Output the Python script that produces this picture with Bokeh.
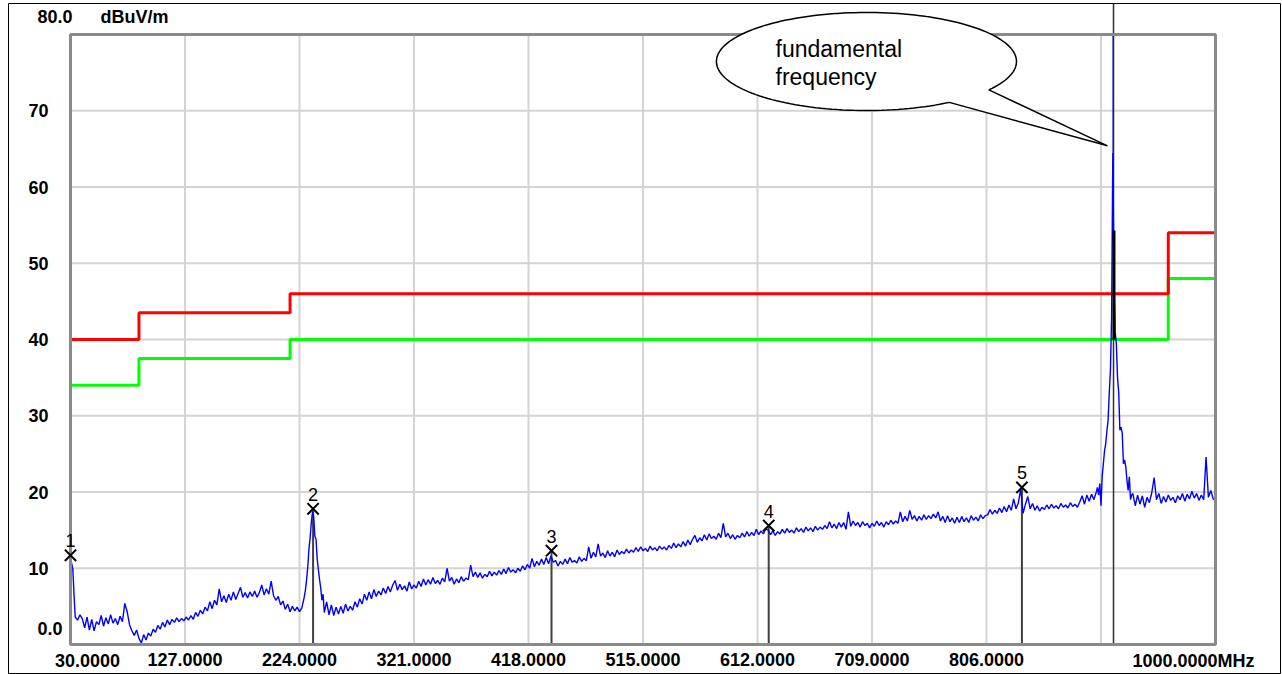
import numpy as np
from bokeh.plotting import figure
from bokeh.models import Label, PolyAnnotation, FixedTicker, Range1d
from bokeh.core.properties import value
from bokeh.embed import file_html
from bokeh.resources import INLINE

# ---------------- data ----------------
X_TICKS = [30, 127, 224, 321, 418, 515, 612, 709, 806, 903, 1000]
X_AXIS_LABELED = [127, 224, 321, 418, 515, 612, 709, 806]
Y_TICKS = [0, 10, 20, 30, 40, 50, 60, 70, 80]
Y_AXIS_LABELED = [10, 20, 30, 40, 50, 60, 70]
X_MIN, X_MAX = 30, 1000
Y_MIN, Y_MAX = 0, 80
UNIT_Y = "dBuV/m"
UNIT_X = "MHz"

# limit lines (step edges in MHz and levels in dBuV/m)
LIMIT_EDGES = [30, 88, 216, 960, 1000]
RED_LIMIT = [40.0, 43.5, 46.0, 54.0]
GREEN_MARGIN = [34.0, 37.5, 40.0, 48.0]

# spectrum trace, by segment
SEG0_FREQ = [30, 31, 32, 33, 34]
SEG0_LEVEL = [11.5, 10.6, 9.8, 6.5, 3.6]

SEG1_FREQ = list(range(36, 228, 2))
SEG1_LEVEL = [
    3.2, 3.9, 3.4, 2.2, 3.6, 1.9, 3.3, 1.8, 3.0, 2.6,
    3.8, 2.4, 3.5, 2.7, 3.9, 2.8, 3.4, 2.6, 3.7, 3.0,
    5.4, 4.3, 2.6, 1.8, 1.2, 1.9, 0.8, 0.2, 1.3, 0.6,
    1.5, 1.1, 2.0, 1.6, 2.5, 2.0, 2.9, 2.3, 3.2, 2.6,
    3.3, 2.9, 3.5, 3.0, 3.4, 3.1, 3.6, 3.2, 3.8, 3.3,
    4.2, 3.7, 4.5, 4.0, 4.9, 4.4, 5.6, 4.7, 5.8, 5.2,
    7.3, 5.6, 6.4, 5.5, 6.6, 5.8, 6.9, 5.9, 6.7, 7.5,
    6.2, 6.8, 6.1, 6.9, 6.3, 7.0, 6.2, 6.8, 7.8, 6.5,
    7.3, 6.6, 8.3, 6.4, 5.8, 6.3, 5.2, 5.7, 4.6, 5.3,
    4.3, 5.0, 4.4, 4.9, 4.3, 4.8,
]

SEG2_FREQ = list(range(227, 246))
SEG2_LEVEL = [5.5, 6.2, 7.1, 8.5, 10.2, 12.5, 14.0, 16.0, 17.4, 16.8,
              14.2, 13.8, 11.2, 9.8, 8.5, 7.4, 5.8, 6.6, 4.2]

SEG3_FREQ = list(range(247, 900, 2))
SEG3_LEVEL = [
    5.6, 3.9, 5.2, 3.8, 4.9, 4.0, 5.0, 4.1, 5.3, 4.4,
    5.0, 4.5, 5.6, 4.9, 6.0, 5.3, 6.6, 5.8, 6.9, 6.0,
    7.2, 6.3, 7.0, 6.5, 7.4, 6.7, 7.6, 6.9, 7.8, 8.4,
    7.1, 7.9, 7.2, 7.7, 7.0, 8.2, 7.3, 7.8, 7.4, 8.3,
    7.6, 8.6, 7.8, 8.5, 7.9, 8.8, 8.0, 8.4, 7.9, 8.7,
    8.2, 10.0, 8.3, 8.8, 7.9, 8.6, 8.1, 8.9, 8.3, 8.7,
    8.5, 10.4, 8.9, 9.5, 8.8, 9.4, 8.7, 9.2, 8.9, 9.6,
    9.0, 9.5, 9.1, 9.7, 9.2, 9.9, 9.3, 10.1, 9.5, 9.8,
    9.4, 10.0, 9.6, 10.3, 9.8, 10.5, 10.0, 11.3, 10.2, 10.9,
    10.4, 11.2, 10.5, 11.4, 10.6, 11.6, 10.8, 11.0, 10.3, 10.9,
    10.5, 11.2, 10.6, 11.4, 10.8, 11.0, 10.7, 11.5, 10.9, 11.3,
    11.0, 12.8, 11.3, 12.1, 11.5, 13.2, 11.6, 12.0, 11.4, 12.3,
    11.6, 12.1, 11.5, 12.4, 11.8, 12.2, 11.9, 12.5, 12.0, 12.4,
    12.1, 12.7, 12.2, 12.8, 12.3, 12.6, 12.2, 12.9, 12.4, 12.7,
    12.3, 12.9, 12.5, 12.8, 12.4, 13.0, 12.6, 13.3, 12.7, 13.2,
    12.8, 13.5, 12.9, 13.7, 13.1, 13.8, 14.3, 13.4, 14.0, 13.6,
    14.4, 13.7, 14.5, 13.9, 14.2, 13.8, 14.6, 14.0, 15.9, 14.1,
    14.6, 13.9, 14.4, 13.8, 14.3, 14.0, 14.6, 14.1, 14.8, 14.2,
    14.7, 14.3, 15.1, 14.4, 14.9, 14.5, 15.2, 15.0, 14.4, 14.9,
    14.3, 14.8, 14.5, 15.1, 14.6, 15.2, 14.7, 15.0, 14.6, 15.3,
    14.8, 15.2, 14.7, 15.4, 14.9, 15.3, 14.8, 15.5, 15.0, 15.4,
    15.1, 15.6, 15.2, 16.1, 15.3, 15.8, 15.2, 16.0, 15.4, 16.0,
    15.1, 17.4, 15.5, 16.2, 15.6, 16.0, 15.4, 16.1, 15.6, 15.9,
    15.3, 15.9, 15.5, 16.2, 15.6, 16.0, 15.4, 16.1, 15.7, 16.3,
    15.8, 16.2, 15.9, 17.4, 16.1, 16.8, 16.2, 17.6, 16.4, 16.9,
    16.2, 16.8, 16.3, 17.0, 16.4, 16.9, 16.5, 17.1, 16.6, 17.4,
    16.2, 16.8, 16.0, 16.9, 16.1, 16.6, 15.9, 16.7, 16.0, 16.8,
    16.1, 16.6, 16.0, 16.9, 16.3, 16.7, 16.2, 17.0, 16.5, 16.9,
    17.0, 17.7, 17.1, 17.6, 17.2, 17.9, 17.3, 18.1, 17.4, 18.3,
    17.6, 19.1, 17.8, 18.6, 20.4, 17.2, 18.4, 19.4, 17.8, 18.5,
    17.6, 18.2, 17.5, 18.0, 17.7, 18.3, 17.8, 18.4, 17.9, 18.2,
    17.8, 18.5, 18.0, 18.3, 17.9, 18.6, 18.1, 18.4, 18.0, 18.7,
    19.5, 18.4, 19.6, 18.8, 19.7, 19.0, 20.0,
]

SEG4_FREQ = list(range(900, 930))
SEG4_LEVEL = [20.6, 19.6, 21.1, 18.2, 22.0, 23.7, 25.4, 26.3, 28.0, 29.4,
              33.0, 36.0, 43.1, 64.5, 48.0, 41.0, 39.5, 35.0, 33.1, 28.1,
              28.5, 27.7, 23.7, 24.2, 23.3, 21.5, 20.2, 22.0, 19.0, 19.6]

SEG5_FREQ = list(range(930, 1001, 2))
SEG5_LEVEL = [
    19.8, 18.2, 19.6, 18.4, 19.5, 18.0, 19.3, 18.6, 19.9, 21.9,
    19.0, 19.8, 18.5, 19.4, 18.7, 19.6, 18.9, 19.3, 18.6, 19.5,
    19.0, 19.8, 18.8, 19.7, 19.1, 20.1, 19.2, 19.8, 18.9, 19.6,
    19.0, 24.6, 19.3, 20.2, 19.1, 18.9,
]

# markers
MARKER_NAMES = ["1", "2", "3", "4", "5"]
MARKER_FREQ = [30.0, 235.5, 437.5, 621.5, 836.0]
MARKER_LEVEL = [11.7, 17.8, 12.3, 15.6, 20.6]

# fundamental frequency
FUND_FREQ = 913.6
FUND_PEAK_TOP = 80.0
FUND_PEAK_BASE = 64.5
QP_FREQ = 914.0
QP_LOW, QP_HIGH = 40.0, 54.3

# callout
CALLOUT_CENTER = (704.3, 76.46)
CALLOUT_SEMI = (127.1, 6.43)
CALLOUT_TAIL_DEG = (-35.3, -56.5)
CALLOUT_TIP = (908.5, 65.4)
CALLOUT_LINES = ["fundamental", "frequency"]

# ---------------- layout (pixels of the 1282x674 canvas) ----------------
W, H = 1282, 674
BOX_L, BOX_R, BOX_T, BOX_B = 70, 1215, 34, 644
XPP = (X_MAX - X_MIN) / (BOX_R - BOX_L)   # MHz per pixel
YPP = (Y_MAX - Y_MIN) / (BOX_B - BOX_T)   # dB per pixel
XR = (X_MIN - BOX_L * XPP, X_MAX + (W - BOX_R) * XPP)
YR = (Y_MIN - (H - BOX_B) * YPP, Y_MAX + BOX_T * YPP)


def px2x(px):
    return XR[0] + px * XPP


def py2y(py):
    return YR[1] - py * YPP


# ---------------- assemble ----------------
segs = [(SEG0_FREQ, SEG0_LEVEL), (SEG1_FREQ, SEG1_LEVEL), (SEG2_FREQ, SEG2_LEVEL),
        (SEG3_FREQ, SEG3_LEVEL), (SEG4_FREQ, SEG4_LEVEL), (SEG5_FREQ, SEG5_LEVEL)]
trace_f, trace_l = [], []
for f, l in segs:
    n = min(len(f), len(l))
    trace_f += list(f[:n])
    trace_l += list(l[:n])


def step_xy(edges, levels):
    xs, ys = [], []
    for i, lv in enumerate(levels):
        xs += [edges[i], edges[i + 1]]
        ys += [lv, lv]
    return xs, ys


p = figure(width=W, height=H, x_range=Range1d(*XR), y_range=Range1d(*YR),
           output_backend="svg", toolbar_location=None, min_border=0)
p.background_fill_color = "white"
p.border_fill_color = "white"
p.outline_line_color = None
p.xgrid.visible = False
p.ygrid.visible = False

# axes placed on the plot box edges
p.xaxis.fixed_location = Y_MIN
p.yaxis.fixed_location = X_MIN
p.xaxis.ticker = FixedTicker(ticks=X_AXIS_LABELED)
p.yaxis.ticker = FixedTicker(ticks=Y_AXIS_LABELED)
for ax in p.axis:
    ax.major_tick_line_color = None
    ax.minor_tick_line_color = None
    ax.axis_line_color = None
    ax.major_tick_out = 0
    ax.major_tick_in = 0
    ax.major_label_text_font = "Liberation Sans"
    ax.major_label_text_font_style = "bold"
    ax.major_label_text_font_size = "18px"
    ax.major_label_text_color = "black"
p.xaxis.major_label_standoff = 8
p.yaxis.major_label_standoff = 22
p.xaxis.major_label_overrides = {v: f"{v:.4f}" for v in X_AXIS_LABELED}

# outer border of the picture
p.quad(left=[px2x(8)], right=[px2x(1280)], bottom=[py2y(673)], top=[py2y(3)],
       fill_color=None, line_color="black", line_width=1)

# grid
gx = X_TICKS[1:-1]
gy = Y_TICKS[1:-1]
p.segment(x0=gx, y0=[Y_MIN] * len(gx), x1=gx, y1=[Y_MAX] * len(gx),
          line_color="#d4d4d4", line_width=2)
p.segment(x0=[X_MIN] * len(gy), y0=gy, x1=[X_MAX] * len(gy), y1=gy,
          line_color="#d4d4d4", line_width=2)

# limit lines
rx, ry = step_xy(LIMIT_EDGES, RED_LIMIT)
gxs, gys = step_xy(LIMIT_EDGES, GREEN_MARGIN)
p.line(gxs, gys, line_color="#00ff00", line_width=3)
p.line(rx, ry, line_color="#ff0000", line_width=3)

# marker stems
p.segment(x0=MARKER_FREQ, y0=[Y_MIN] * len(MARKER_FREQ), x1=MARKER_FREQ, y1=MARKER_LEVEL,
          line_color="#404040", line_width=2)
# fundamental marker line (up to the picture border)
p.segment(x0=[FUND_FREQ], y0=[Y_MIN], x1=[FUND_FREQ], y1=[py2y(3)],
          line_color="#303030", line_width=1.5)

# spectrum
p.line(trace_f, trace_l, line_color="#0000ff", line_width=1.4)
p.segment(x0=[FUND_FREQ - 0.4], y0=[FUND_PEAK_BASE], x1=[FUND_FREQ - 0.4], y1=[FUND_PEAK_TOP],
          line_color="#0000ff", line_width=1)
p.segment(x0=[QP_FREQ], y0=[QP_LOW], x1=[QP_FREQ], y1=[QP_HIGH], line_color="black", line_width=3)

# plot box
p.quad(left=[X_MIN], right=[X_MAX], bottom=[Y_MIN], top=[Y_MAX],
       fill_color=None, line_color="#8a8a8a", line_width=3)

# marker symbols and numbers
p.scatter(MARKER_FREQ, MARKER_LEVEL, marker="x", size=16, line_color="black", line_width=2)
p.text(x=MARKER_FREQ, y=[v + 14.5 * YPP for v in MARKER_LEVEL], text=MARKER_NAMES,
       text_align="center", text_baseline="middle", text_font=value("Liberation Sans"),
       text_font_size="18px", text_color="black")

# callout
cx, cy = CALLOUT_CENTER
a, b = CALLOUT_SEMI
t = np.linspace(np.deg2rad(CALLOUT_TAIL_DEG[0]), np.deg2rad(360 + CALLOUT_TAIL_DEG[1]), 160)
cxs = list(cx + a * np.cos(t)) + [CALLOUT_TIP[0]]
cys = list(cy + b * np.sin(t)) + [CALLOUT_TIP[1]]
p.add_layout(PolyAnnotation(xs=cxs, ys=cys, fill_color="white", fill_alpha=1.0,
                            line_color="black", line_alpha=1.0, line_width=1.5))
for i, txt in enumerate(CALLOUT_LINES):
    p.add_layout(Label(x=px2x(775), y=py2y(48 + 28 * i), text=txt, text_align="left",
                       text_baseline="middle", text_font="Liberation Sans",
                       text_font_size="23px", text_color="black"))

# special tick texts
BOLD = dict(text_font="Liberation Sans", text_font_style="bold", text_font_size="18px",
            text_color="black")
p.add_layout(Label(x=px2x(37), y=py2y(16), text=f"{Y_MAX:.1f}", text_align="left",
                   text_baseline="middle", **BOLD))
p.add_layout(Label(x=px2x(100), y=py2y(16), text=UNIT_Y, text_align="left",
                   text_baseline="middle", **BOLD))
p.add_layout(Label(x=px2x(37), y=py2y(628), text=f"{Y_MIN:.1f}", text_align="left",
                   text_baseline="middle", **BOLD))
p.add_layout(Label(x=px2x(87), y=py2y(660), text=f"{X_MIN:.4f}", text_align="center",
                   text_baseline="middle", **BOLD))
p.add_layout(Label(x=px2x(1217), y=py2y(660), text=f"{X_MAX:.4f}", text_align="right",
                   text_baseline="middle", **BOLD))
p.add_layout(Label(x=px2x(1217), y=py2y(660), text=UNIT_X, text_align="left",
                   text_baseline="middle", **BOLD))

open("out.html", "w").write(file_html(p, INLINE))
